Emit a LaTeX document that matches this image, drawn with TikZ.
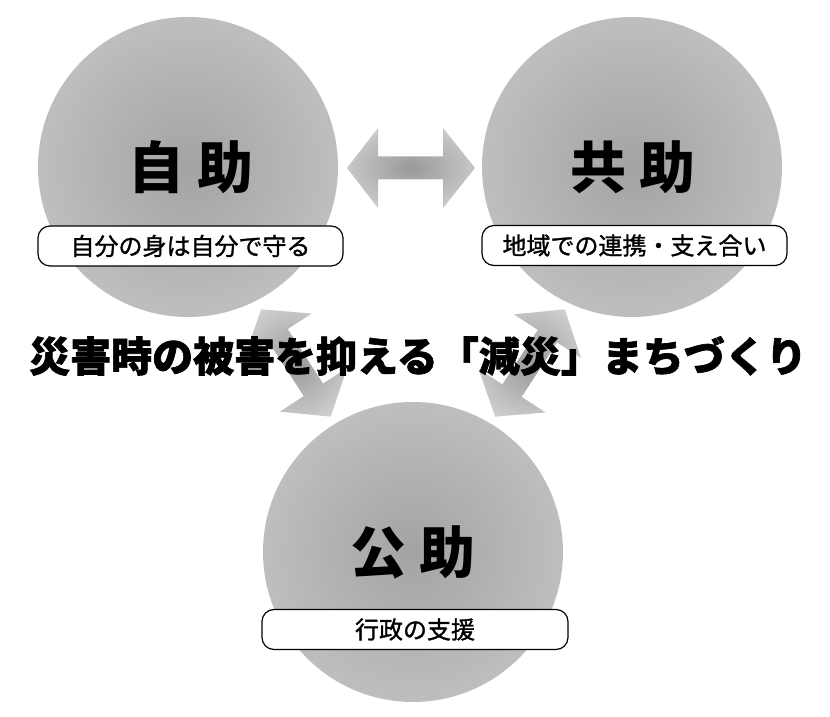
\documentclass[tikz,border=0pt]{standalone}
\usepackage{fontspec}
\newfontfamily\jp{Noto Sans CJK JP}
\newfontfamily\jpmed{Noto Sans CJK JP}[FakeBold=1.2]
\newfontfamily\jpheavy{Noto Sans CJK JP}[BoldFeatures={FakeBold=1.6}]
\pgfdeclareradialshading{ballshade}{\pgfpoint{0bp}{0bp}}{color(0bp)=(black!36); color(50bp)=(black!15); color(70bp)=(black!15)}
\pgfdeclareradialshading{arrowshade}{\pgfpoint{0bp}{0bp}}{color(0bp)=(black!40); color(50bp)=(black!4); color(70bp)=(black!4)}
\tikzset{
  ball/.style={circle, minimum size=300pt, inner sep=0pt, shade, shading=ballshade},
  pill/.style={draw=black, line width=1.2pt, fill=white, rounded corners=12pt, minimum height=40pt, inner sep=0pt, font=\jpmed\fontsize{24}{26}\selectfont},
  bigtitle/.style={font=\jp\bfseries\fontsize{56}{60}\selectfont},
  headline/.style={font=\jpheavy\bfseries\fontsize{41}{44}\selectfont},
  dblarrow/.pic={\shade[shading=arrowshade] (-64,0) -- (-33,40) -- (-33,11.5) -- (32,11.5) -- (32,40) -- (64,0) -- (32,-40) -- (32,-11.5) -- (-33,-11.5) -- (-33,-40) -- cycle;}
}
\begin{document}
\begin{tikzpicture}[x=1pt,y=1pt]
\useasboundingbox (0,0) rectangle (830,717);
\fill[white] (0,0) rectangle (830,717);
% arrows
\pic at (411,549) {dblarrow};
\pic[rotate=-57] at (296,354) {dblarrow};
\pic[rotate=57] at (530,354) {dblarrow};
% circles
\node[ball] (jijo) at (188,550) {};
\node[ball] (kyojo) at (632,550) {};
\node[ball] (kojo) at (413,165) {};
% titles
\node[bigtitle] (jijot) at (191,550) {自 助};
\node[bigtitle] (kyojot) at (633,550) {共 助};
\node[bigtitle] (kojot) at (413,165) {公 助};
% pills
\node[pill, minimum width=305pt] (jijop) at (190.5,471) {自分の身は自分で守る};
\node[pill, minimum width=305pt] (kyojop) at (634.5,471.5) {地域での連携・支え合い};
\node[pill, minimum width=306pt] (kojop) at (415,87.5) {行政の支援};
% headline
\node[headline] (head) at (418,361) {災害時の被害を抑える「減災」まちづくり};
\end{tikzpicture}
\end{document}
